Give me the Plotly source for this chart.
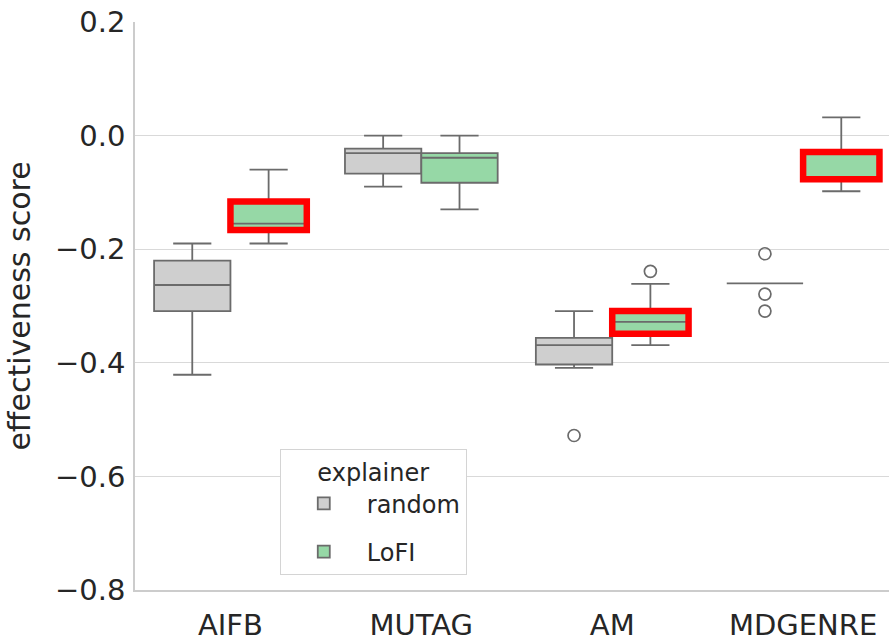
import plotly.graph_objects as go

categories = ["AIFB", "MUTAG", "AM", "MDGENRE"]
explainers = ["random", "LoFI"]

# box statistics
random_q1 = [-0.309, -0.067, -0.403, -0.260]
random_med = [-0.263, -0.031, -0.369, -0.260]
random_q3 = [-0.220, -0.023, -0.356, -0.260]
random_lo = [-0.421, -0.090, -0.409, -0.260]
random_hi = [-0.190, 0.000, -0.309, -0.260]
random_outliers = {"AM": [-0.528], "MDGENRE": [-0.208, -0.279, -0.309]}

lofi_q1 = [-0.166, -0.083, -0.349, -0.077]
lofi_med = [-0.155, -0.039, -0.328, -0.030]
lofi_q3 = [-0.116, -0.031, -0.309, -0.029]
lofi_lo = [-0.190, -0.130, -0.369, -0.098]
lofi_hi = [-0.060, 0.000, -0.261, 0.032]
lofi_outliers = {"AM": [-0.239]}

highlighted = ["AIFB", "AM", "MDGENRE"]

ytick_vals = [0.2, 0.0, -0.2, -0.4, -0.6, -0.8]
ytick_text = ["0.2", "0.0", "\u22120.2", "\u22120.4", "\u22120.6", "\u22120.8"]

EDGE = "#6b6b6b"
FILLS = {"random": "#cfcfcf", "LoFI": "#96d8a6"}
OFFS = {"random": -0.2, "LoFI": 0.2}
BOXW = 0.4
FONT = "DejaVu Sans"
TXT = "#262626"

fig = go.Figure()
stats = {
    "random": (random_q1, random_med, random_q3, random_lo, random_hi, random_outliers),
    "LoFI": (lofi_q1, lofi_med, lofi_q3, lofi_lo, lofi_hi, lofi_outliers),
}
for name in explainers:
    q1, med, q3, lo, hi, outl = stats[name]
    xs = [i + OFFS[name] for i in range(len(categories))]
    fig.add_trace(go.Box(
        name=name, x=xs, q1=q1, median=med, q3=q3, lowerfence=lo, upperfence=hi,
        width=BOXW, whiskerwidth=0.5, boxpoints=False,
        fillcolor=FILLS[name], line=dict(color=EDGE, width=1.8),
        legendgroup=name, hoverinfo="skip",
    ))
for name in explainers:
    outl = stats[name][5]
    ox, oy = [], []
    for cat, vals in outl.items():
        i = categories.index(cat)
        for v in vals:
            ox.append(i + OFFS[name])
            oy.append(v)
    fig.add_trace(go.Scatter(
        x=ox, y=oy, mode="markers", showlegend=False,
        marker=dict(symbol="circle-open", size=12, color=EDGE, line=dict(width=1.7, color=EDGE)),
        hoverinfo="skip",
    ))

# red highlight around selected LoFI boxes
for cat in highlighted:
    i = categories.index(cat)
    c = i + OFFS["LoFI"]
    fig.add_shape(type="rect", xref="x", yref="y",
                  x0=c - BOXW / 2, x1=c + BOXW / 2,
                  y0=lofi_q1[i], y1=lofi_q3[i],
                  line=dict(color="#ff0000", width=6.5), layer="above")

fig.update_layout(
    width=889, height=641,
    margin=dict(l=135, r=0, t=22, b=51),
    paper_bgcolor="white", plot_bgcolor="white",
    font=dict(family=FONT, color=TXT, size=28),
    showlegend=True,
    legend=dict(
        x=0.192, y=0.248, xanchor="left", yanchor="top",
        bgcolor="white", bordercolor="#d4d4d4", borderwidth=1,
        font=dict(size=24, family=FONT, color=TXT),
        title=dict(text="explainer", side="top center", font=dict(size=24, family=FONT, color=TXT)),
        tracegroupgap=14, itemwidth=76,
    ),
)
fig.update_xaxes(
    range=[-0.5, 3.45], tickmode="array",
    tickvals=list(range(len(categories))), ticktext=categories,
    showgrid=False, zeroline=False, showline=True, linecolor="#cccccc", linewidth=1.5,
    ticks="", tickfont=dict(size=29, family=FONT, color=TXT),
    ticklabelstandoff=8,
)
fig.update_yaxes(
    range=[-0.8, 0.2], tickmode="array", tickvals=ytick_vals, ticktext=ytick_text,
    showgrid=True, gridcolor="#d9d9d9", gridwidth=1.3, zeroline=False,
    showline=True, linecolor="#cccccc", linewidth=1.5, mirror=False,
    ticks="", tickfont=dict(size=29, family=FONT, color=TXT),
    ticklabelstandoff=2,
    title=dict(text="effectiveness score", font=dict(size=30, family=FONT, color=TXT), standoff=16),
)

fig.write_html("out.html")
